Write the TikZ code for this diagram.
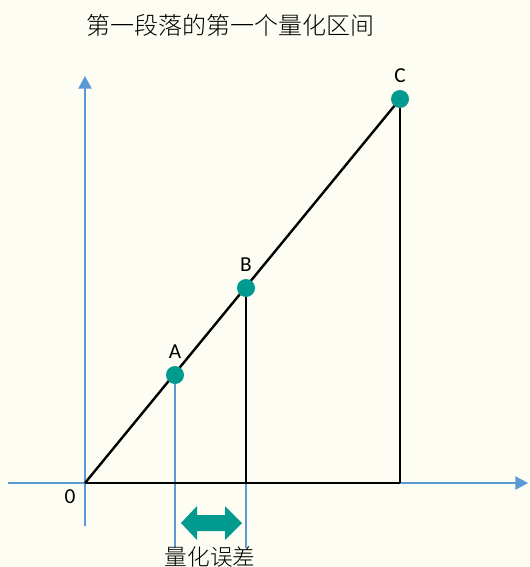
\documentclass[tikz,border=0pt]{standalone}
\usepackage{fontspec}
\setmainfont{Carlito}
\newfontfamily\cjk{Noto Sans CJK SC Light}
\usepackage{tikz}
\usetikzlibrary{arrows.meta,positioning,backgrounds}
\definecolor{paper}{HTML}{FEFDF4}
\definecolor{axis}{HTML}{5B9BD5}
\definecolor{dot}{HTML}{009A8E}

\begin{document}
\begin{tikzpicture}[x=0.75pt,y=-0.75pt,
  pt/.style={circle,fill=dot,inner sep=0pt,minimum size=13.5pt},
  lbl/.style={font=\fontsize{16}{18}\selectfont,inner sep=0pt},
  ax/.style={axis,line width=1.1pt,-{Triangle[length=9.5pt,width=10pt]}},
  guide/.style={axis,line width=1.1pt},
  bk/.style={black,line width=1.8pt}]
\useasboundingbox (0,0) rectangle (530,567);
\coordinate (o) at (85,483);
\coordinate (xl) at (8,483); \coordinate (xr) at (528,483);
\coordinate (yd) at (85,526); \coordinate (yu) at (85,76);
% points on the line
\node[pt] (a) at (175,375) {};
\node[pt] (b) at (246,288) {};
\node[pt] (c) at (400,99) {};
\coordinate (af) at (175,548); \coordinate (bf) at (246,548);
\coordinate (bx) at (246,483); \coordinate (cx) at (400,483);
\begin{scope}[on background layer]
\fill[paper] (0,0) rectangle (530,567);
\draw[ax] (xl)--(xr);
\draw[ax] (yd)--(yu);
\draw[guide] (a.center)--(af);
\draw[guide] (b.center)--(bf);
\draw[bk] (o)--(c.center);
\draw[bk] (b.center)--(bx);
\draw[bk] (c.center)--(cx);
\draw[bk] (o)--(cx);
\end{scope}
\node[lbl,above=5pt of a] (la) {A};
\node[lbl,above=5pt of b] (lb) {B};
\node[lbl,above=5pt of c] (lc) {C};
\node[lbl] (lo) at (70,497) {0};
% quantisation error
\fill[dot] (181,523)--(197,506)--(197,515)--(225,515)--(225,506)--(242,523)
  --(225,540)--(225,531)--(197,531)--(197,540)--cycle;
\node[font=\cjk\fontsize{17}{19}\selectfont] (err) at (210,557) {量化误差};
\node[font=\cjk\fontsize{18}{20}\selectfont] (title) at (230,25) {第一段落的第一个量化区间};
\end{tikzpicture}
\end{document}
